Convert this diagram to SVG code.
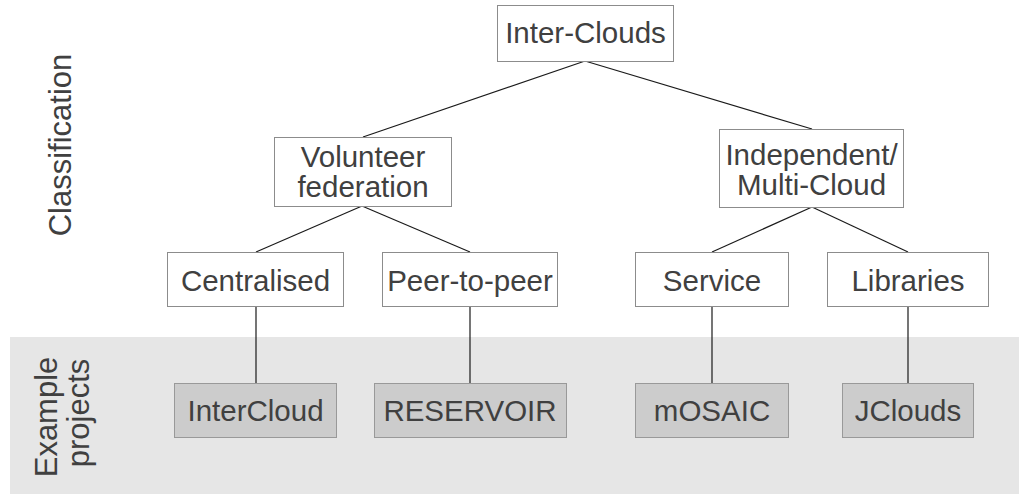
<svg xmlns="http://www.w3.org/2000/svg" width="1019" height="496" viewBox="0 0 1019 496">
<style>
.box{fill:#ffffff;stroke:#8c8c8c;stroke-width:1}
.proj{fill:#cccccc;stroke:#999999;stroke-width:1}
.t{font-family:"Liberation Sans",Arial,sans-serif;font-size:29.5px;fill:#404040;text-anchor:middle}
.lab{font-size:31px}
.c{stroke:#1a1a1a;stroke-width:1.2;fill:none}
</style>
<rect x="0" y="0" width="1019" height="496" fill="#ffffff"/>
<rect id="band" x="10" y="337" width="1009" height="157" fill="#e6e6e6"/>
<g id="labels">
<text class="t lab" transform="translate(71,145) rotate(-90)">Classification</text>
<text class="t lab" transform="translate(57,417) rotate(-90)">Example</text>
<text class="t lab" transform="translate(89,413) rotate(-90)">projects</text>
</g>
<g id="connectors">
<line class="c" x1="585" y1="61" x2="363" y2="137"/>
<line class="c" x1="585" y1="61" x2="812" y2="129"/>
<line class="c" x1="362" y1="206" x2="256" y2="252"/>
<line class="c" x1="362" y1="206" x2="470" y2="252"/>
<line class="c" x1="812" y1="207" x2="712" y2="252"/>
<line class="c" x1="812" y1="207" x2="908" y2="252"/>
<line class="c" x1="256" y1="307" x2="256" y2="383"/>
<line class="c" x1="470" y1="307" x2="470" y2="383"/>
<line class="c" x1="712" y1="306" x2="712" y2="383"/>
<line class="c" x1="908" y1="306" x2="908" y2="383"/>
</g>
<g id="inter-clouds"><rect class="box" x="497.5" y="5.5" width="176" height="56"/><text class="t" x="585.5" y="43">Inter-Clouds</text></g>
<g id="volunteer"><rect class="box" x="274.5" y="137.5" width="177" height="69"/><text class="t" x="363" y="166.5">Volunteer</text><text class="t" x="363" y="196.5">federation</text></g>
<g id="independent"><rect class="box" x="719.5" y="129.5" width="184" height="78"/><text class="t" x="811.5" y="165">Independent/</text><text class="t" x="811.5" y="195">Multi-Cloud</text></g>
<g id="centralised"><rect class="box" x="167.5" y="252.5" width="176" height="54"/><text class="t" x="255.5" y="290.5">Centralised</text></g>
<g id="peer"><rect class="box" x="382.5" y="252.5" width="175" height="54"/><text class="t" x="470" y="290.5">Peer-to-peer</text></g>
<g id="service"><rect class="box" x="635.5" y="252.5" width="153" height="54"/><text class="t" x="712" y="290.5">Service</text></g>
<g id="libraries"><rect class="box" x="827.5" y="252.5" width="161" height="54"/><text class="t" x="908" y="290.5">Libraries</text></g>
<g id="intercloud"><rect class="proj" x="174.5" y="383.5" width="162" height="54"/><text class="t" x="255.5" y="420.5">InterCloud</text></g>
<g id="reservoir"><rect class="proj" x="374.5" y="383.5" width="192" height="54"/><text class="t" x="470" y="420.5">RESERVOIR</text></g>
<g id="mosaic"><rect class="proj" x="635.5" y="383.5" width="153" height="54"/><text class="t" x="712" y="420.5">mOSAIC</text></g>
<g id="jclouds"><rect class="proj" x="842.5" y="383.5" width="131" height="54"/><text class="t" x="908" y="420.5">JClouds</text></g>
</svg>
